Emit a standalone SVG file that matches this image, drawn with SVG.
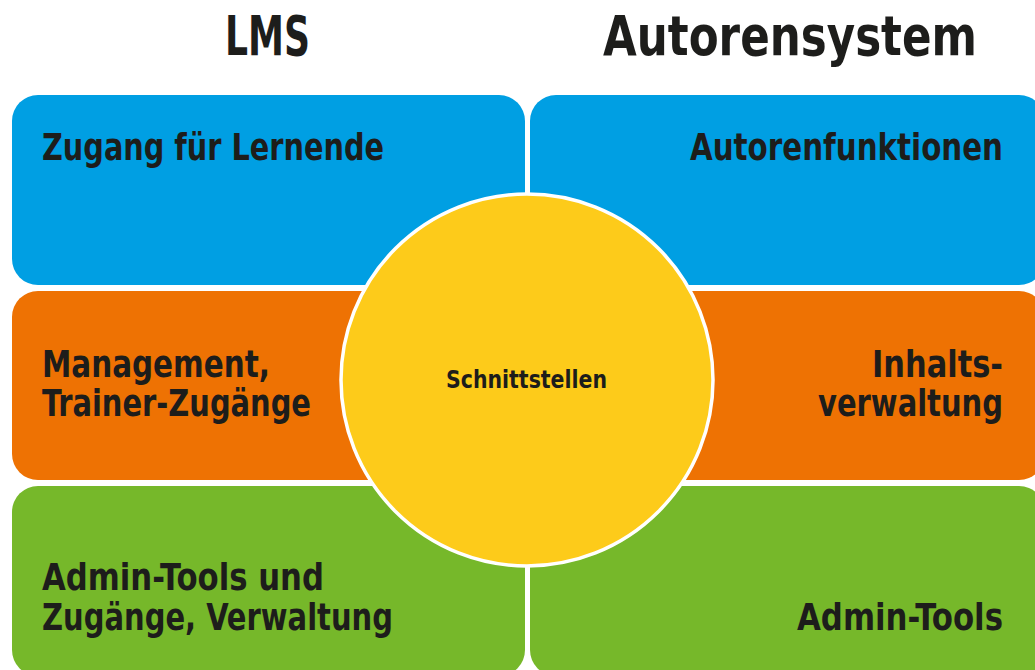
<svg xmlns="http://www.w3.org/2000/svg" width="1035" height="670" viewBox="0 0 1035 670">
  <style>
    .lbl { font-family: "DejaVu Sans", "Liberation Sans", sans-serif; font-stretch: condensed; font-weight: bold; fill: #1d1d1b; }
    .head { font-size: 55px; }
    .box { font-size: 38px; }
    .core { font-size: 24px; }
    .blue { fill: #009fe3; }
    .orange { fill: #ee7203; }
    .green { fill: #76b82a; }
  </style>
  <rect width="1035" height="670" fill="#ffffff"/>

  <!-- column headings -->
  <g id="headings">
    <text class="lbl head" x="225" y="55" textLength="85" lengthAdjust="spacingAndGlyphs">LMS</text>
    <text class="lbl head" x="603" y="55" textLength="374" lengthAdjust="spacingAndGlyphs">Autorensystem</text>
  </g>

  <!-- left column: LMS -->
  <g id="lms-access">
    <rect class="blue" x="12" y="95" width="513" height="190" rx="26"/>
    <text class="lbl box" x="42" y="160" textLength="342" lengthAdjust="spacingAndGlyphs">Zugang für Lernende</text>
  </g>
  <g id="lms-management">
    <rect class="orange" x="12" y="291" width="513" height="189" rx="26"/>
    <text class="lbl box" x="42" y="377" textLength="228" lengthAdjust="spacingAndGlyphs">Management,</text>
    <text class="lbl box" x="42" y="416" textLength="269" lengthAdjust="spacingAndGlyphs">Trainer-Zugänge</text>
  </g>
  <g id="lms-admin">
    <rect class="green" x="12" y="486" width="513" height="190" rx="26"/>
    <text class="lbl box" x="42" y="590" textLength="282" lengthAdjust="spacingAndGlyphs">Admin-Tools und</text>
    <text class="lbl box" x="42" y="630" textLength="351" lengthAdjust="spacingAndGlyphs">Zugänge, Verwaltung</text>
  </g>

  <!-- right column: authoring system -->
  <g id="author-functions">
    <rect class="blue" x="530" y="95" width="515" height="190" rx="26"/>
    <text class="lbl box" x="690" y="160" textLength="313" lengthAdjust="spacingAndGlyphs">Autorenfunktionen</text>
  </g>
  <g id="author-content">
    <rect class="orange" x="530" y="291" width="515" height="189" rx="26"/>
    <text class="lbl box" x="872" y="377" textLength="131" lengthAdjust="spacingAndGlyphs">Inhalts-</text>
    <text class="lbl box" x="818" y="416" textLength="185" lengthAdjust="spacingAndGlyphs">verwaltung</text>
  </g>
  <g id="author-admin">
    <rect class="green" x="530" y="486" width="515" height="190" rx="26"/>
    <text class="lbl box" x="797" y="630" textLength="206" lengthAdjust="spacingAndGlyphs">Admin-Tools</text>
  </g>

  <!-- shared interfaces in the centre -->
  <g id="interfaces">
    <circle cx="527" cy="380" r="186" fill="#fdcb1a" stroke="#ffffff" stroke-width="3.5"/>
    <text class="lbl core" x="446" y="388" textLength="161" lengthAdjust="spacingAndGlyphs">Schnittstellen</text>
  </g>

  <g id="connectors"></g>
</svg>
